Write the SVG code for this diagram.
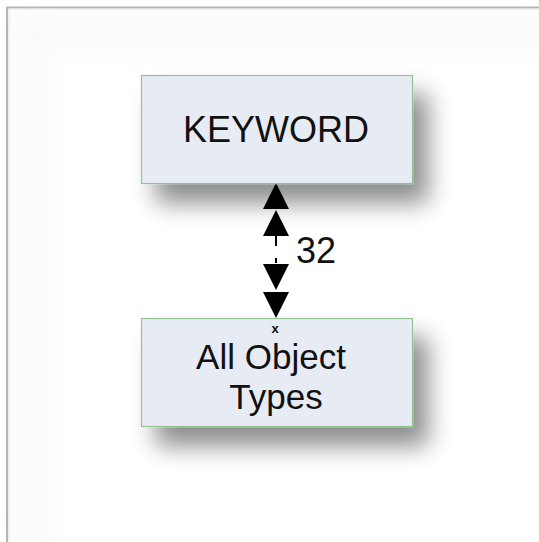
<svg xmlns="http://www.w3.org/2000/svg" width="539" height="542" viewBox="0 0 539 542">
  <defs>
    <filter id="shadow" x="-40%" y="-60%" width="190%" height="230%">
      <feGaussianBlur in="SourceAlpha" stdDeviation="12"/>
      <feOffset dx="15" dy="19" result="b"/>
      <feComponentTransfer in="b" result="s">
        <feFuncA type="linear" slope="0.45"/>
      </feComponentTransfer>
      <feMerge>
        <feMergeNode in="s"/>
        <feMergeNode in="SourceGraphic"/>
      </feMerge>
    </filter>
    <filter id="inner" x="-10%" y="-10%" width="120%" height="120%">
      <feGaussianBlur stdDeviation="14"/>
    </filter>
  </defs>
  <style>
    .box { fill: #e7ebf3; stroke: #93c293; stroke-width: 1.2; }
    .lbl { font-family: "Liberation Sans", Arial, sans-serif; font-size: 36px; fill: #111; text-anchor: middle; }
    .tri { fill: #000; }
  </style>
  <!-- frame -->
  <rect x="0" y="0" width="539" height="542" fill="#fff"/>
  <g filter="url(#inner)" opacity="0.3">
    <rect x="8" y="8" width="540" height="40" fill="#eeeeee"/>
    <rect x="8" y="8" width="40" height="540" fill="#eeeeee"/>
  </g>
  <line x1="6" y1="7.5" x2="539" y2="7.5" stroke="#b5b5b5" stroke-width="2"/>
  <line x1="7" y1="7" x2="7" y2="542" stroke="#b5b5b5" stroke-width="2"/>
  <line x1="8.5" y1="9" x2="539" y2="9" stroke="#e4e4e4" stroke-width="1"/>
  <line x1="9" y1="9" x2="9" y2="542" stroke="#e4e4e4" stroke-width="1"/>

  <g id="connectors">
    <line x1="276" y1="236" x2="276" y2="263" stroke="#000" stroke-width="2" stroke-dasharray="10,12"/>
    <path class="tri" d="M276,183 L263,209 L289,209 Z"/>
    <path class="tri" d="M276,210 L263,236 L289,236 Z"/>
    <path class="tri" d="M276,290 L263,264 L289,264 Z"/>
    <path class="tri" d="M276,318 L263,292 L289,292 Z"/>
    <text class="lbl" x="316" y="263">32</text>
  </g>

  <g id="keyword">
    <rect class="box" x="141.5" y="75.5" width="271" height="108" filter="url(#shadow)"/>
    <text class="lbl" x="276" y="142">KEYWORD</text>
  </g>

  <g id="all-object-types">
    <rect class="box" x="141.5" y="318.5" width="271" height="108" filter="url(#shadow)"/>
    <text x="275" y="333" font-family="Liberation Sans, Arial, sans-serif" font-size="13" font-weight="bold" fill="#111" text-anchor="middle">x</text>
    <text class="lbl" style="font-size:35px" y="369"><tspan x="271">All Object</tspan><tspan x="276" dy="39.5">Types</tspan></text>
  </g>
</svg>
